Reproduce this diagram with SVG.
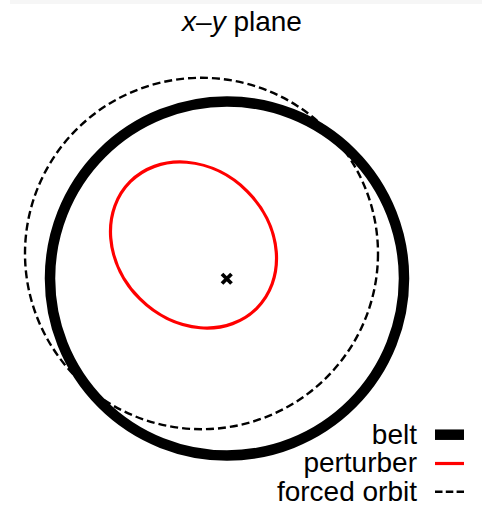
<svg xmlns="http://www.w3.org/2000/svg" width="482" height="514" viewBox="0 0 482 514">
<style>
text{font-family:"Liberation Sans",Arial,sans-serif;font-size:28px;fill:#000}
.belt{fill:none;stroke:#000;stroke-width:10.5}
.pert{fill:none;stroke:#f00;stroke-width:3.2}
.forced{fill:none;stroke:#000;stroke-width:2.4;stroke-dasharray:8 4}
</style>
<rect width="482" height="514" fill="#fff"/>
<rect x="10" y="0" width="472" height="4" fill="#f6f6f6"/>
<text x="242" y="31" text-anchor="middle" font-size="27.5"><tspan font-style="italic">x</tspan>–<tspan font-style="italic">y</tspan> plane</text>
<g id="belt"><circle class="belt" cx="227" cy="278.5" r="177"/></g>
<g id="forced-orbit"><ellipse class="forced" cx="201.5" cy="253.5" rx="176.5" ry="175.7"/></g>
<g id="perturber"><ellipse class="pert" cx="193.5" cy="245" rx="89.5" ry="76" transform="rotate(45 193.5 245)"/></g>
<g id="center"><path d="M222 274L231.5 283.5M231.5 274L222 283.5" stroke="#000" stroke-width="3.8" fill="none"/></g>
<g id="legend">
<text x="417" y="443.5" text-anchor="end">belt</text>
<text x="417" y="472" text-anchor="end">perturber</text>
<text x="417" y="501" text-anchor="end">forced orbit</text>
<line class="belt" x1="435" y1="434.7" x2="464" y2="434.7"/>
<line class="pert" x1="435" y1="463.5" x2="464" y2="463.5"/>
<line x1="435" y1="491.7" x2="464" y2="491.7" stroke="#000" stroke-width="2.4" stroke-dasharray="7.5 3.3"/>
</g>
</svg>
